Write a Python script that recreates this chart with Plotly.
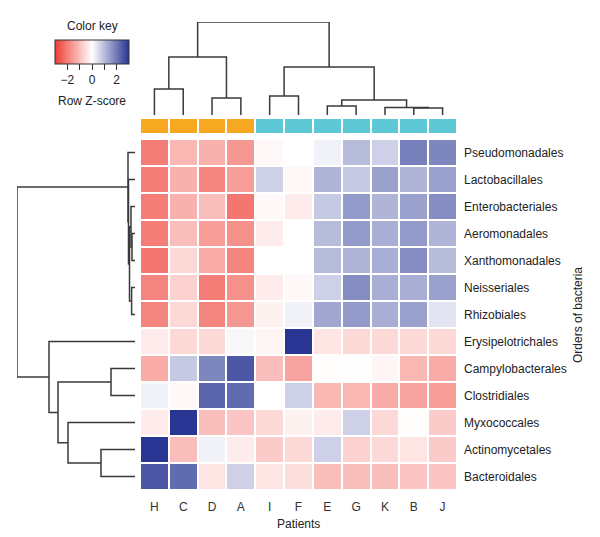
import plotly.graph_objects as go

# column / row order as drawn (after clustering)
patients = ["H", "C", "D", "A", "I", "F", "E", "G", "K", "B", "J"]
patient_group = [0, 0, 0, 0, 1, 1, 1, 1, 1, 1, 1]
bacteria = [
    "Pseudomonadales", "Lactobacillales", "Enterobacteriales", "Aeromonadales",
    "Xanthomonadales", "Neisseriales", "Rhizobiales", "Erysipelotrichales",
    "Campylobacterales", "Clostridiales", "Myxococcales", "Actinomycetales",
    "Bacteroidales",
]

# row z-scores (rows = bacteria, cols = patients)
zscores = [
    [-2.0, -1.1, -1.2, -1.6, -0.1, 0.0, 0.2, 1.0, 0.7, 1.9, 1.8],
    [-2.0, -1.2, -1.9, -1.5, 0.7, -0.1, 1.1, 0.8, 1.4, 1.1, 1.4],
    [-2.0, -1.2, -1.0, -2.1, -0.1, -0.3, 0.8, 1.5, 1.1, 1.4, 1.7],
    [-2.0, -1.0, -1.5, -1.7, -0.3, 0.0, 1.0, 1.5, 1.2, 1.5, 1.1],
    [-2.1, -0.6, -1.3, -1.9, 0.0, 0.0, 1.0, 1.1, 1.2, 1.7, 1.0],
    [-1.9, -0.7, -2.0, -1.7, -0.3, -0.1, 0.7, 1.7, 1.2, 1.2, 1.4],
    [-1.9, -0.6, -1.9, -1.6, -0.2, 0.2, 1.3, 1.5, 1.2, 1.4, 0.4],
    [-0.3, -0.6, -0.6, 0.1, -0.15, 3.0, -0.4, -0.6, -0.6, -0.6, -0.6],
    [-1.3, 0.8, 1.8, 2.5, -1.0, -1.4, -0.05, 0.02, -0.15, -1.1, -1.3],
    [0.2, -0.1, 2.3, 2.2, 0.0, 0.7, -1.1, -1.1, -1.3, -1.4, -1.5],
    [-0.3, 3.0, -1.0, -0.9, -0.6, -0.2, -0.3, 0.7, -0.6, -0.05, -0.8],
    [3.0, -1.0, 0.2, -0.3, -0.8, -0.6, 0.7, -0.7, -0.6, -0.4, -0.8],
    [2.5, 2.2, -0.4, 0.7, -0.4, -0.5, -1.0, -1.0, -1.0, -0.9, -0.9],
]

# dendrograms as nested (left, right, height); ints are leaf positions
col_tree = (((0, 1, 26), (2, 3, 17), 58),
            ((4, 5, 19), ((6, 7, 9), (8, (9, 10, 7), 7.5), 15), 48), 93)
row_tree = ((0, (1, ((2, (3, 4, 3.0), 4.0), (5, 6, 3.4), 5.5), 6.5), 7.0),
            (7, ((8, 9, 24), (10, (11, 12, 34), 67), 77), 86), 118)

W, H = 600, 537
FONT = "Liberation Sans, Arial, Helvetica, sans-serif"
LINE = "#3a3a3a"


def dendro(node):
    if isinstance(node, int):
        return node, 0.0, [], []
    a, b, h = node
    pa, ha, xa, ya = dendro(a)
    pb, hb, xb, yb = dendro(b)
    xs = xa + xb + [pa, pa, pb, pb, None]
    ys = ya + yb + [ha, h, h, hb, None]
    return (pa + pb) / 2, h, xs, ys


def px_x(a, b):
    return [a / W, b / W]


def px_y(top, bottom):
    return [1 - bottom / H, 1 - top / H]


def label(text, x, y, angle=0):
    return dict(text=text, x=x / W, y=1 - y / H, xref="paper", yref="paper",
                xanchor="center", yanchor="middle", showarrow=False,
                textangle=angle, font=dict(size=12, color="#222"))


colorscale = [[0.0, "#ee3d33"], [0.5, "#ffffff"], [1.0, "#283593"]]

fig = go.Figure()

# main heatmap
fig.add_trace(go.Heatmap(
    z=zscores, x=patients, y=bacteria,
    zmin=-3, zmax=3, colorscale=colorscale,
    xgap=2, ygap=2, hoverinfo="skip",
    colorbar=dict(
        orientation="h", x=55 / W, xanchor="left", y=1 - 40 / H, yanchor="top",
        len=74, lenmode="pixels", thickness=24, thicknessmode="pixels",
        xpad=0, ypad=0, outlinecolor="#333", outlinewidth=1,
        tickvals=[-2, -1, 0, 1, 2], ticktext=["\u22122", "", "0", "", "2"],
        ticks="outside", ticklen=6, tickcolor="#333",
        tickfont=dict(size=12, color="#222", family=FONT),
    ),
    xaxis="x", yaxis="y",
))

# group colour strip
fig.add_trace(go.Heatmap(
    z=[patient_group], x=patients, y=["group"],
    zmin=0, zmax=1, showscale=False, xgap=2, ygap=0,
    colorscale=[[0, "#f6a821"], [0.5, "#f6a821"], [0.5, "#5fc8d5"], [1, "#5fc8d5"]],
    hoverinfo="skip", xaxis="x2", yaxis="y2",
))

# top dendrogram
_, _, cx, cy = dendro(col_tree)
fig.add_trace(go.Scatter(x=cx, y=cy, mode="lines", line=dict(color=LINE, width=1.5),
                         hoverinfo="skip", showlegend=False, xaxis="x3", yaxis="y3"))

# left dendrogram
_, _, rp, rh = dendro(row_tree)
fig.add_trace(go.Scatter(x=rh, y=rp, mode="lines", line=dict(color=LINE, width=1.5),
                         hoverinfo="skip", showlegend=False, xaxis="x4", yaxis="y4"))

hm_x = px_x(140, 457)
hm_y = px_y(139, 490)
hidden = dict(visible=False, showgrid=False, zeroline=False, fixedrange=True)

fig.update_layout(
    width=W, height=H, margin=dict(l=0, r=0, t=0, b=0),
    paper_bgcolor="white", plot_bgcolor="white",
    font=dict(family=FONT, size=12, color="#222"),
    showlegend=False,
    xaxis=dict(domain=hm_x, showgrid=False, zeroline=False, ticks="",
               ticklabelstandoff=8, tickfont=dict(size=12, color="#333")),
    yaxis=dict(domain=hm_y, autorange="reversed", side="right", anchor="x",
               showgrid=False, zeroline=False, ticks="", ticklabelstandoff=6,
               tickfont=dict(size=12, color="#222")),
    xaxis2=dict(domain=hm_x, anchor="y2", **hidden),
    yaxis2=dict(domain=px_y(119, 133), anchor="x2", **hidden),
    xaxis3=dict(domain=hm_x, anchor="y3", range=[-0.5, 10.5], **hidden),
    yaxis3=dict(domain=px_y(22, 115), anchor="x3", range=[0, 93], **hidden),
    xaxis4=dict(domain=px_x(17, 135), anchor="y4", range=[118, 0], **hidden),
    yaxis4=dict(domain=hm_y, anchor="x4", range=[12.5, -0.5], **hidden),
    annotations=[
        label("Patients", (140 + 457) / 2, 524),
        label("Orders of bacteria", 578, 315, angle=-90),
        label("Color key", 92, 26),
        label("Row Z-score", 92, 101),
    ],
)

# drop the page's default body margin so the figure sits at (0, 0)
fig.write_html("out.html", config={"displayModeBar": False},
               post_script="document.body.style.margin='0';")
